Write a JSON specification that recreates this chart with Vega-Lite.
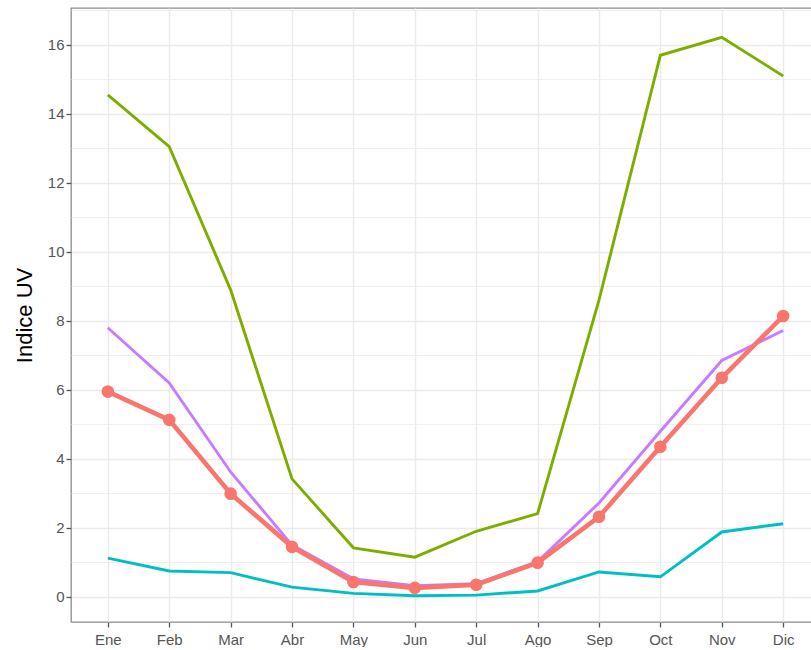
{
  "$schema": "https://vega.github.io/schema/vega-lite/v6.json",
  "width": 749,
  "height": 614,
  "padding": {"left": 13, "top": 8, "right": 0, "bottom": 0},
  "background": "white",
  "config": {"view": {"stroke": "#8c8c8c", "strokeWidth": 1.3}, "font": "Liberation Sans"},
  "data": {"values": [
    {"mes": "Ene", "serie": "Máximo", "uv": 14.55},
    {"mes": "Feb", "serie": "Máximo", "uv": 13.05},
    {"mes": "Mar", "serie": "Máximo", "uv": 8.9},
    {"mes": "Abr", "serie": "Máximo", "uv": 3.42},
    {"mes": "May", "serie": "Máximo", "uv": 1.42},
    {"mes": "Jun", "serie": "Máximo", "uv": 1.15},
    {"mes": "Jul", "serie": "Máximo", "uv": 1.9},
    {"mes": "Ago", "serie": "Máximo", "uv": 2.41},
    {"mes": "Sep", "serie": "Máximo", "uv": 8.6},
    {"mes": "Oct", "serie": "Máximo", "uv": 15.7},
    {"mes": "Nov", "serie": "Máximo", "uv": 16.22},
    {"mes": "Dic", "serie": "Máximo", "uv": 15.1},
    {"mes": "Ene", "serie": "Mediana", "uv": 7.8},
    {"mes": "Feb", "serie": "Mediana", "uv": 6.2},
    {"mes": "Mar", "serie": "Mediana", "uv": 3.62},
    {"mes": "Abr", "serie": "Mediana", "uv": 1.5},
    {"mes": "May", "serie": "Mediana", "uv": 0.52},
    {"mes": "Jun", "serie": "Mediana", "uv": 0.32},
    {"mes": "Jul", "serie": "Mediana", "uv": 0.38},
    {"mes": "Ago", "serie": "Mediana", "uv": 1.02},
    {"mes": "Sep", "serie": "Mediana", "uv": 2.72},
    {"mes": "Oct", "serie": "Mediana", "uv": 4.8},
    {"mes": "Nov", "serie": "Mediana", "uv": 6.85},
    {"mes": "Dic", "serie": "Mediana", "uv": 7.72},
    {"mes": "Ene", "serie": "Mínimo", "uv": 1.12},
    {"mes": "Feb", "serie": "Mínimo", "uv": 0.75},
    {"mes": "Mar", "serie": "Mínimo", "uv": 0.7},
    {"mes": "Abr", "serie": "Mínimo", "uv": 0.28},
    {"mes": "May", "serie": "Mínimo", "uv": 0.1},
    {"mes": "Jun", "serie": "Mínimo", "uv": 0.03},
    {"mes": "Jul", "serie": "Mínimo", "uv": 0.05},
    {"mes": "Ago", "serie": "Mínimo", "uv": 0.17},
    {"mes": "Sep", "serie": "Mínimo", "uv": 0.72},
    {"mes": "Oct", "serie": "Mínimo", "uv": 0.58},
    {"mes": "Nov", "serie": "Mínimo", "uv": 1.88},
    {"mes": "Dic", "serie": "Mínimo", "uv": 2.12},
    {"mes": "Ene", "serie": "Promedio", "uv": 5.95},
    {"mes": "Feb", "serie": "Promedio", "uv": 5.13},
    {"mes": "Mar", "serie": "Promedio", "uv": 2.99},
    {"mes": "Abr", "serie": "Promedio", "uv": 1.45},
    {"mes": "May", "serie": "Promedio", "uv": 0.43},
    {"mes": "Jun", "serie": "Promedio", "uv": 0.26},
    {"mes": "Jul", "serie": "Promedio", "uv": 0.35},
    {"mes": "Ago", "serie": "Promedio", "uv": 0.99},
    {"mes": "Sep", "serie": "Promedio", "uv": 2.32},
    {"mes": "Oct", "serie": "Promedio", "uv": 4.35},
    {"mes": "Nov", "serie": "Promedio", "uv": 6.35},
    {"mes": "Dic", "serie": "Promedio", "uv": 8.14}
  ]},
  "encoding": {
    "x": {
      "field": "mes", "type": "ordinal",
      "sort": ["Ene","Feb","Mar","Abr","May","Jun","Jul","Ago","Sep","Oct","Nov","Dic"],
      "scale": {"type": "point", "padding": 0.6},
      "axis": {"title": null, "labelAngle": 0, "labelColor": "#555555", "labelFontSize": 15, "labelFont": "Liberation Sans",
               "tickColor": "#555555", "tickSize": 5, "tickWidth": 1.3, "domain": false, "grid": true, "gridColor": "#ebebeb", "gridWidth": 1.4, "labelPadding": 5}
    },
    "y": {
      "field": "uv", "type": "quantitative",
      "scale": {"domain": [-0.73, 17.07], "nice": false, "zero": false},
      "axis": {
        "title": "Indice UV", "titleFontSize": 22, "titleFont": "Liberation Sans", "titleFontWeight": "normal", "titleColor": "#000000", "titlePadding": 11,
        "values": [0,1,2,3,4,5,6,7,8,9,10,11,12,13,14,15,16,17],
        "labelExpr": "datum.value % 2 == 0 ? datum.label : ''",
        "labelColor": "#555555", "labelFontSize": 15, "labelPadding": 2,
        "tickColor": "#555555", "tickSize": 5, "tickWidth": 1.3,
        "tickOpacity": {"condition": {"test": "datum.value % 2 == 1", "value": 0}, "value": 1},
        "gridColor": "#ebebeb",
        "gridWidth": {"condition": {"test": "datum.value % 2 == 1", "value": 0.8}, "value": 1.4},
        "domain": false
      }
    },
    "color": {
      "field": "serie", "type": "nominal",
      "scale": {"domain": ["Promedio", "Máximo", "Mínimo", "Mediana"], "range": ["#F8766D", "#7CAE00", "#00BFC4", "#C77CFF"]},
      "legend": null
    }
  },
  "layer": [
    {"transform": [{"filter": "datum.serie != 'Promedio'"}], "mark": {"type": "line", "strokeWidth": 2.9}},
    {"transform": [{"filter": "datum.serie == 'Promedio'"}], "mark": {"type": "line", "strokeWidth": 4.6}},
    {"transform": [{"filter": "datum.serie == 'Promedio'"}], "mark": {"type": "point", "filled": true, "size": 160, "opacity": 1}}
  ]
}
